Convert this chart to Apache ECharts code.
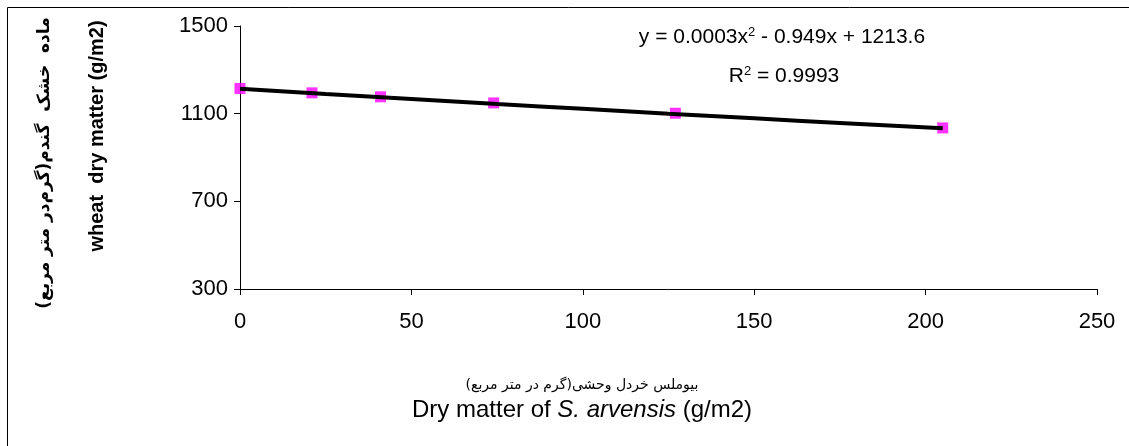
<!DOCTYPE html>
<html>
<head>
<meta charset="utf-8">
<script src="https://cdn.jsdelivr.net/npm/echarts@6/dist/echarts.min.js"></script>
<style>
html,body{margin:0;padding:0;background:#fff;}
#chart{width:1129px;height:446px;}
</style>
</head>
<body>
<div id="chart"></div>
<script>
// Observed points (S. arvensis dry matter vs wheat dry matter)
const weedDM = [0, 21, 41, 74, 127, 205];
const wheatDM = [1215, 1195, 1177, 1149, 1102, 1035];
// Trend line
const trendX = [0, 25, 50, 75, 100, 125, 150, 175, 205];
const trendY = [1214, 1190, 1167, 1144, 1122, 1100, 1079, 1057, 1033];
// Axis ticks
const xTicks = [0, 50, 100, 150, 200, 250];
const yTicks = [300, 700, 1100, 1500];

const FONT = '"Liberation Sans", Arial, "DejaVu Sans", sans-serif';
const RLM = '\u200F';

const chart = echarts.init(document.getElementById('chart'), null, {renderer: 'canvas'});
const option = {
  backgroundColor: '#fff',
  animation: false,
  grid: {left: 240, right: 32, top: 26, bottom: 157},
  xAxis: {
    type: 'value', min: xTicks[0], max: xTicks[xTicks.length - 1], interval: 50,
    splitLine: {show: false},
    axisLine: {lineStyle: {color: '#000', width: 1}},
    axisTick: {show: true, length: 6, lineStyle: {color: '#000'}},
    axisLabel: {color: '#000', fontFamily: FONT, fontSize: 22, margin: 22,
                formatter: v => String(v)}
  },
  yAxis: {
    type: 'value', min: yTicks[0], max: yTicks[yTicks.length - 1], interval: 400,
    splitLine: {show: false},
    axisLine: {show: true, lineStyle: {color: '#000', width: 1}},
    axisTick: {show: true, length: 6, lineStyle: {color: '#000'}},
    axisLabel: {color: '#000', fontFamily: FONT, fontSize: 22, margin: 12,
                formatter: v => String(v)}
  },
  series: [
    {
      type: 'line',
      data: trendX.map((x, i) => [x, trendY[i]]),
      showSymbol: false, smooth: true,
      lineStyle: {color: '#000', width: 4},
      z: 3
    },
    {
      type: 'scatter',
      data: weedDM.map((x, i) => [x, wheatDM[i]]),
      symbol: 'rect', symbolSize: 11,
      itemStyle: {color: '#FF00FF'},
      z: 2
    }
  ],
  graphic: [
    {type: 'rect', shape: {x: 7.5, y: 7.5, width: 1200, height: 500},
     style: {fill: null, stroke: '#000', lineWidth: 1}, silent: true, z: -10},
    {type: 'text', x: 782, y: 37,
     style: {
       text: '{a|y = 0.0003x}{s|2}{a| - 0.949x + 1213.6}',
       align: 'center', verticalAlign: 'middle',
       rich: {
         a: {fontFamily: FONT, fontSize: 21, fill: '#000'},
         s: {fontFamily: FONT, fontSize: 13, fill: '#000', verticalAlign: 'top', padding: [0, 0, 9, 0]}
       }
     }},
    {type: 'text', x: 784, y: 76,
     style: {
       text: '{a|R}{s|2}{a| = 0.9993}',
       align: 'center', verticalAlign: 'middle',
       rich: {
         a: {fontFamily: FONT, fontSize: 21, fill: '#000'},
         s: {fontFamily: FONT, fontSize: 13, fill: '#000', verticalAlign: 'top', padding: [0, 0, 9, 0]}
       }
     }},
    {type: 'text', x: 97, y: 136, rotation: Math.PI / 2,
     style: {text: 'wheat  dry matter (g/m2)', fontFamily: FONT, fontSize: 20, fontWeight: 'bold',
             fill: '#000', align: 'center', verticalAlign: 'middle'}},
    {type: 'text', x: 45, y: 163, rotation: Math.PI / 2,
     style: {text: RLM + 'ماده  خشک  گندم(گرم‌در متر مربع)' + RLM, fontFamily: '"DejaVu Sans", sans-serif', fontSize: 17, fontWeight: 'bold',
             fill: '#000', align: 'center', verticalAlign: 'middle'}},
    {type: 'text', x: 582, y: 385,
     style: {text: RLM + 'بیوملس خردل وحشی(گرم در متر مربع)' + RLM, fontFamily: '"DejaVu Sans", sans-serif', fontSize: 14,
             fill: '#000', align: 'center', verticalAlign: 'middle'}},
    {type: 'text', x: 582, y: 410,
     style: {
       text: '{a|Dry matter of }{i|S. arvensis}{a| (g/m2)}',
       align: 'center', verticalAlign: 'middle',
       rich: {
         a: {fontFamily: FONT, fontSize: 24, fill: '#000'},
         i: {fontFamily: FONT, fontSize: 24, fontStyle: 'italic', fill: '#000'}
       }
     }}
  ]
};
chart.setOption(option);
</script>
</body>
</html>
